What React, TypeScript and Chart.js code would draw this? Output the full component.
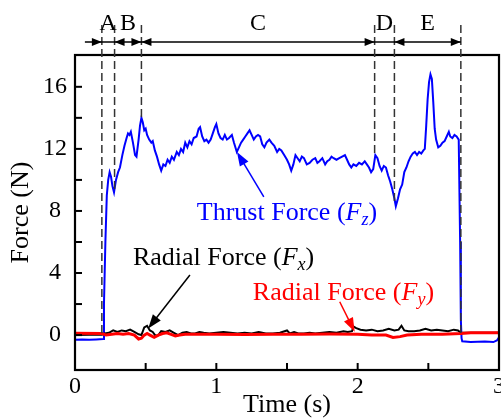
import { useEffect, useRef } from "react";
import { Chart, registerables } from "chart.js";

Chart.register(...registerables);

// ---------- data ----------
const thrustTime = [
  0.0, 0.05, 0.1, 0.15, 0.2, 0.205, 0.215, 0.225, 0.235, 0.245, 0.255, 0.265, 0.276, 0.29, 0.305,
  0.318, 0.335, 0.35, 0.365, 0.375, 0.385, 0.395, 0.41, 0.425, 0.435, 0.45, 0.46, 0.47, 0.48, 0.49,
  0.5, 0.51, 0.525, 0.54, 0.55, 0.565, 0.58, 0.595, 0.61, 0.625, 0.64, 0.655, 0.67, 0.685, 0.7,
  0.72, 0.735, 0.75, 0.765, 0.78, 0.795, 0.81, 0.825, 0.84, 0.86, 0.875, 0.885, 0.9, 0.915, 0.93,
  0.945, 0.96, 0.975, 0.99, 1.0, 1.015, 1.03, 1.045, 1.06, 1.075, 1.09, 1.11, 1.125, 1.145, 1.16,
  1.175, 1.19, 1.205, 1.22, 1.235, 1.25, 1.265, 1.28, 1.295, 1.31, 1.325, 1.34, 1.355, 1.375, 1.39,
  1.41, 1.43, 1.445, 1.46, 1.48, 1.5, 1.515, 1.53, 1.545, 1.56, 1.575, 1.59, 1.605, 1.62, 1.64,
  1.66, 1.68, 1.7, 1.715, 1.73, 1.75, 1.77, 1.785, 1.8, 1.815, 1.83, 1.85, 1.87, 1.89, 1.91,
  1.925, 1.94, 1.955, 1.97, 1.99, 2.01, 2.03, 2.05, 2.065, 2.08, 2.095, 2.11, 2.125, 2.14, 2.155,
  2.17, 2.185, 2.2, 2.215, 2.23, 2.245, 2.26, 2.27, 2.285, 2.3, 2.315, 2.33, 2.345, 2.36, 2.375,
  2.39, 2.405, 2.42, 2.435, 2.45, 2.465, 2.475, 2.485, 2.495, 2.505, 2.515, 2.525, 2.535, 2.545, 2.555,
  2.57, 2.585, 2.6, 2.615, 2.63, 2.645, 2.655, 2.67, 2.685, 2.7, 2.715, 2.725, 2.73, 2.735, 2.74,
  2.8, 2.9, 2.96, 2.985, 3.0,
];
const thrustForce = [
  -0.3, -0.28, -0.3, -0.28, -0.25, 2.0, 6.0, 9.0, 10.0, 10.5, 10.2, 9.6, 9.2, 10.0, 10.5,
  10.8, 11.6, 12.2, 12.7, 13.0, 12.9, 13.1, 12.4, 11.6, 11.5, 12.6, 13.5, 14.0, 13.7, 13.2,
  13.3, 12.9, 12.6, 12.4, 12.5, 11.9, 11.5, 11.0, 10.6, 11.0, 10.9, 11.3, 11.1, 11.5, 11.3,
  11.8, 11.6, 12.0, 11.8, 12.4, 12.1, 12.5, 12.3, 12.7, 12.8, 13.3, 13.4, 12.8, 12.5, 12.6,
  12.4, 12.6, 13.0, 13.4, 13.6, 13.0, 12.7, 12.6, 12.9, 12.6, 12.7, 12.9, 12.4, 11.8, 12.1,
  12.4, 12.6, 12.8, 13.0, 13.2, 12.9, 12.6, 12.8, 12.9, 12.8, 12.3, 12.1, 12.4, 12.6, 12.4,
  12.2, 11.8, 12.0, 11.9, 11.6, 11.3, 11.0, 10.6, 11.0, 11.6, 11.4, 11.2, 11.5, 11.4, 11.0,
  11.1, 11.3, 11.4, 11.1, 11.2, 11.4, 11.0, 11.2, 11.3, 11.5, 11.4, 11.3, 11.4, 11.5, 11.6,
  11.3, 11.0, 10.8, 11.0, 10.9, 11.1, 11.0, 11.2, 11.0, 10.8, 10.5, 10.7, 11.6, 11.4, 10.9,
  10.6, 10.9, 10.8, 10.3, 9.9, 9.4, 8.8, 8.3, 8.8, 9.4, 9.7, 10.5, 10.8, 11.2, 11.5,
  11.7, 11.8, 11.6, 11.8, 11.7, 11.9, 12.0, 13.5, 15.2, 16.3, 16.8, 16.5, 15.0, 13.3, 12.6,
  12.1, 12.2, 12.4, 12.5, 12.8, 13.1, 12.8, 12.7, 12.9, 12.8, 12.6, 6.0, 1.0, -0.2, -0.4,
  -0.45, -0.42, -0.45, -0.35, -0.15,
];

const fxTime = [
  0.0, 0.1, 0.19, 0.21, 0.24, 0.27, 0.3, 0.33, 0.36, 0.39, 0.42, 0.45, 0.47, 0.49, 0.51, 0.53,
  0.55, 0.57, 0.59, 0.61, 0.64, 0.67, 0.7, 0.73, 0.76, 0.79, 0.82, 0.85, 0.88, 0.91, 0.95, 1.0,
  1.05, 1.1, 1.15, 1.2, 1.25, 1.3, 1.35, 1.4, 1.45, 1.5, 1.52, 1.55, 1.58, 1.62, 1.66, 1.7,
  1.75, 1.8, 1.85, 1.9, 1.93, 1.96, 1.97, 1.99, 2.02, 2.06, 2.1, 2.14, 2.18, 2.22, 2.26, 2.29,
  2.31, 2.33, 2.36, 2.4, 2.44, 2.48, 2.52, 2.56, 2.6, 2.64, 2.68, 2.71, 2.73, 2.8, 2.9, 3.0,
];
const fxForce = [
  0.0, 0.02, 0.02, 0.1, 0.15, 0.3, 0.2, 0.3, 0.25, 0.35, 0.2, 0.05, 0.0, 0.5, 0.6, 0.3,
  0.2, -0.05, 0.0, 0.25, 0.2, 0.3, 0.15, 0.0, 0.15, 0.2, 0.1, 0.1, 0.2, 0.15, 0.1, 0.15,
  0.2, 0.15, 0.1, 0.15, 0.1, 0.2, 0.1, 0.1, 0.15, 0.3, 0.1, 0.2, 0.1, 0.1, 0.15, 0.1,
  0.15, 0.2, 0.15, 0.25, 0.2, 0.25, 0.55, 0.45, 0.35, 0.3, 0.35, 0.25, 0.3, 0.4, 0.3, 0.35,
  0.6, 0.3, 0.25, 0.25, 0.3, 0.4, 0.3, 0.35, 0.3, 0.25, 0.35, 0.3, 0.15, 0.15, 0.15, 0.15,
];

const fyTime = [
  0.0, 0.19, 0.22, 0.26, 0.3, 0.34, 0.38, 0.42, 0.45, 0.47, 0.49, 0.51, 0.53, 0.56, 0.59, 0.62,
  0.65, 0.68, 0.71, 0.74, 0.78, 0.9, 1.0, 1.2, 1.4, 1.6, 1.8, 2.0, 2.1, 2.2, 2.25, 2.3,
  2.35, 2.45, 2.6, 2.73, 2.8, 3.0,
];
const fyForce = [
  0.12, 0.1, 0.0, 0.05, 0.1, 0.05, 0.1, 0.0, -0.25, -0.2, 0.0, 0.1, 0.0, -0.15, 0.0, 0.1,
  0.15, 0.05, -0.05, 0.0, 0.05, 0.05, 0.05, 0.03, 0.05, 0.05, 0.07, 0.05, 0.0, 0.0, -0.15, -0.1,
  0.0, 0.05, 0.05, 0.1, 0.15, 0.15,
];

const xTickValues = [0, 1, 2, 3];
const xMinorTickValues = [0.5, 1.5, 2.5];
const yTickValues = [0, 4, 8, 12, 16];
const yMinorTickValues = [2, 6, 10, 14];

const stageBounds = [0.19, 0.28, 0.47, 2.12, 2.26, 2.73];
const stageLineEnds = [-0.1, 9.2, 14.0, 11.6, 8.5, 0.1];
const stageLabels = ["A", "B", "C", "D", "E"];
// arrowheads on the stage line: [time, direction]
const stageArrowTimes = [0.19, 0.28, 0.47, 0.47, 2.12, 2.26, 2.73];
const stageArrowDirs = [1, -1, 1, -1, 1, -1, 1];
const stageLineStart = 0.07;

const labelTexts = [
  ["Thrust Force (", "F", "z", ")"],
  ["Radial Force (", "F", "x", ")"],
  ["Radial Force (", "F", "y", ")"],
];
const labelColors = ["#0000ff", "#000000", "#ff0000"];
const labelX = [0.862, 0.41, 1.258];
const labelY = [7.42, 4.52, 2.26];
const arrowTailX = [1.336, 0.813, 1.873];
const arrowTailY = [8.9, 3.87, 2.15];
const arrowTipX = [1.146, 0.518, 1.979];
const arrowTipY = [11.8, 0.43, 0.21];

const FONT = '"Liberation Serif", "Times New Roman", serif';

function zip(xs: number[], ys: number[]) {
  return xs.map((x, i) => ({ x, y: ys[i] }));
}

function arrowHead(ctx: CanvasRenderingContext2D, tx: number, ty: number, angle: number, len: number, half: number) {
  ctx.save();
  ctx.translate(tx, ty);
  ctx.rotate(angle);
  ctx.beginPath();
  ctx.moveTo(0, 0);
  ctx.lineTo(-len, -half);
  ctx.lineTo(-len, half);
  ctx.closePath();
  ctx.fill();
  ctx.restore();
}

const decorPlugin = {
  id: "decor",
  afterDraw(chart: any) {
    const ctx: CanvasRenderingContext2D = chart.ctx;
    const xs = chart.scales.x;
    const ys = chart.scales.y;
    const { left, right, top, bottom } = chart.chartArea;

    ctx.save();
    // frame
    ctx.strokeStyle = "#000";
    ctx.lineWidth = 2.2;
    ctx.strokeRect(left, top, right - left, bottom - top);

    // inward ticks
    ctx.lineWidth = 2;
    const tl = 7;
    [...xTickValues, ...xMinorTickValues].forEach((v) => {
      const px = xs.getPixelForValue(v);
      if (px <= left + 1 || px >= right - 1) return;
      ctx.beginPath();
      ctx.moveTo(px, bottom);
      ctx.lineTo(px, bottom - tl);
      ctx.stroke();
    });
    [...yTickValues, ...yMinorTickValues].forEach((v) => {
      const py = ys.getPixelForValue(v);
      ctx.beginPath();
      ctx.moveTo(left, py);
      ctx.lineTo(left + tl, py);
      ctx.stroke();
    });

    // stage dashed lines
    ctx.strokeStyle = "#333";
    ctx.lineWidth = 1.5;
    ctx.setLineDash([8, 4]);
    stageBounds.forEach((t, i) => {
      const px = xs.getPixelForValue(t);
      ctx.beginPath();
      ctx.moveTo(px, top - 30);
      ctx.lineTo(px, ys.getPixelForValue(stageLineEnds[i]));
      ctx.stroke();
    });
    ctx.setLineDash([]);

    // stage arrow line
    const ay = top - 13;
    ctx.strokeStyle = "#000";
    ctx.fillStyle = "#000";
    ctx.lineWidth = 1.3;
    ctx.beginPath();
    ctx.moveTo(xs.getPixelForValue(stageLineStart), ay);
    ctx.lineTo(xs.getPixelForValue(stageBounds[stageBounds.length - 1]), ay);
    ctx.stroke();
    stageArrowTimes.forEach((t, i) => {
      arrowHead(ctx, xs.getPixelForValue(t), ay, stageArrowDirs[i] > 0 ? 0 : Math.PI, 10, 4);
    });

    // stage labels
    ctx.font = `24px ${FONT}`;
    ctx.textAlign = "center";
    ctx.textBaseline = "alphabetic";
    stageLabels.forEach((s, i) => {
      const cx = (xs.getPixelForValue(stageBounds[i]) + xs.getPixelForValue(stageBounds[i + 1])) / 2;
      ctx.fillText(s, cx, top - 25);
    });

    // series labels
    ctx.textAlign = "left";
    labelTexts.forEach((parts, i) => {
      let cx = xs.getPixelForValue(labelX[i]);
      const by = ys.getPixelForValue(labelY[i]);
      ctx.fillStyle = labelColors[i];
      parts.forEach((p, j) => {
        const italic = j === 1 || j === 2;
        const sub = j === 2;
        ctx.font = `${italic ? "italic " : ""}${sub ? 18 : 26}px ${FONT}`;
        ctx.fillText(p, cx, by + (sub ? 5 : 0));
        cx += ctx.measureText(p).width;
      });
    });

    // pointer arrows
    labelColors.forEach((c, i) => {
      const x1 = xs.getPixelForValue(arrowTailX[i]);
      const y1 = ys.getPixelForValue(arrowTailY[i]);
      const x2 = xs.getPixelForValue(arrowTipX[i]);
      const y2 = ys.getPixelForValue(arrowTipY[i]);
      const ang = Math.atan2(y2 - y1, x2 - x1);
      ctx.strokeStyle = c;
      ctx.fillStyle = c;
      ctx.lineWidth = 1.5;
      ctx.beginPath();
      ctx.moveTo(x1, y1);
      ctx.lineTo(x2 - 10 * Math.cos(ang), y2 - 10 * Math.sin(ang));
      ctx.stroke();
      arrowHead(ctx, x2, y2, ang, 14, 5);
    });
    ctx.restore();
  },
};

export default function App() {
  const ref = useRef<HTMLCanvasElement>(null);
  useEffect(() => {
    if (!ref.current) return;
    const chart = new Chart(ref.current, {
      type: "line",
      data: {
        datasets: [
          { label: "Fy", data: zip(fyTime, fyForce), borderColor: "#ff0000", borderWidth: 3, pointRadius: 0 },
          { label: "Fx", data: zip(fxTime, fxForce), borderColor: "#000000", borderWidth: 2, pointRadius: 0 },
          { label: "Fz", data: zip(thrustTime, thrustForce), borderColor: "#0000ff", borderWidth: 2, pointRadius: 0 },
        ],
      },
      options: {
        animation: false,
        responsive: false,
        layout: { autoPadding: false, padding: { top: 55, right: 2, left: 0, bottom: 0 } },
        plugins: { legend: { display: false }, tooltip: { enabled: false } },
        elements: { line: { tension: 0 } },
        scales: {
          x: {
            type: "linear",
            min: 0,
            max: 3,
            grid: { display: false, drawTicks: false },
            border: { display: false },
            afterBuildTicks: (s: any) => {
              s.ticks = xTickValues.map((v) => ({ value: v }));
            },
            afterFit: (s: any) => {
              s.height = 48;
              s.paddingLeft = 0;
              s.paddingRight = 0;
            },
            ticks: {
              autoSkip: false,
              maxRotation: 0,
              padding: 2,
              color: "#000",
              font: { family: FONT, size: 24 },
            },
            title: {
              display: true,
              text: "Time (s)",
              color: "#000",
              font: { family: FONT, size: 26, lineHeight: 1 },
              padding: 0,
            },
          },
          y: {
            type: "linear",
            min: -2.25,
            max: 18.05,
            grid: { display: false, drawTicks: false },
            border: { display: false },
            afterBuildTicks: (s: any) => {
              s.ticks = yTickValues.map((v) => ({ value: v }));
            },
            afterFit: (s: any) => {
              s.width = 75;
              s.paddingTop = 0;
              s.paddingBottom = 0;
            },
            ticks: {
              crossAlign: "center",
              padding: 8,
              color: "#000",
              font: { family: FONT, size: 24 },
            },
            title: {
              display: true,
              text: "Force (N)",
              color: "#000",
              font: { family: FONT, size: 26, lineHeight: 1 },
              padding: { top: 8, bottom: 0 },
            },
          },
        },
      },
      plugins: [decorPlugin],
    });
    return () => chart.destroy();
  }, []);
  return (
    <div style={{ position: "fixed", left: 0, top: 0, width: 501, height: 418, background: "#fff" }}>
      <canvas ref={ref} width={501} height={418} />
    </div>
  );
}
